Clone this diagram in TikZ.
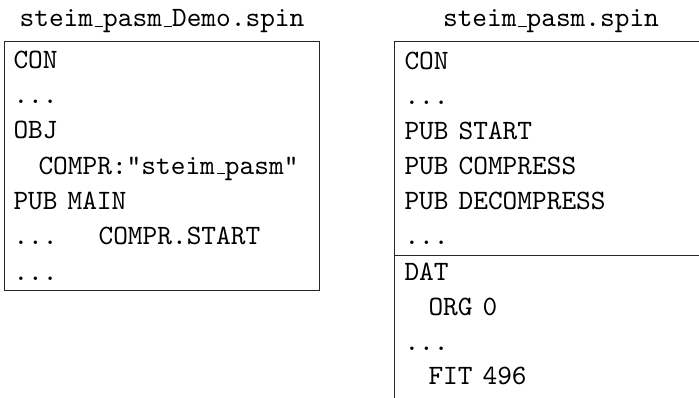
\documentclass[tikz,border=0pt]{standalone}
\usepackage{fontspec}
\newfontfamily\codefont{lmmono10-regular.otf}
\newcommand{\usc}{\leavevmode\kern.06em\vbox{\hrule width .3em height 1.1pt}}
\newcommand{\wsp}{\hspace*{10pt}}
\begin{document}
\begin{tikzpicture}[x=1pt,y=1pt,
  codeline/.style={anchor=base west,inner sep=0pt,outer sep=0pt,font=\fontsize{28}{35}\codefont},
  titletext/.style={anchor=base,inner sep=0pt,outer sep=0pt,font=\fontsize{28}{35}\codefont},
  frame/.style={draw=black!85,line width=1pt}]
\useasboundingbox (0,0) rectangle (699,-398);
% left file
\node[titletext] (t1) at (162,-27) {steim\usc pasm\usc Demo.spin};
\draw[frame] (4.5,-42) rectangle (319,-290.5);
\node[codeline] (a1) at (13.5,-69) {CON};
\node[codeline] (a2) at (13.5,-104) {...};
\node[codeline] (a3) at (13.5,-139) {OBJ};
\node[codeline] (a4) at (13.5,-174.5) {\hspace*{25pt}COMPR:"steim\usc pasm"};
\node[codeline] (a5) at (13.5,-210) {PUB\wsp MAIN};
\node[codeline] (a6) at (13.5,-245) {...\hspace*{41pt}COMPR.START};
\node[codeline] (a7) at (13.5,-280.5) {...};
% right file
\node[titletext] (t2) at (551,-27) {steim\usc pasm.spin};
\draw[frame] (699,-42) -- (394,-42) -- (394,-398);
\draw[frame] (394,-256) -- (699,-256);
\node[codeline] (b1) at (404.5,-70) {CON};
\node[codeline] (b2) at (404.5,-105) {...};
\node[codeline] (b3) at (404.5,-140) {PUB\wsp START};
\node[codeline] (b4) at (404.5,-175) {PUB\wsp COMPRESS};
\node[codeline] (b5) at (404.5,-210) {PUB\wsp DECOMPRESS};
\node[codeline] (b6) at (404.5,-245) {...};
\node[codeline] (b7) at (404.5,-280) {DAT};
\node[codeline] (b8) at (404.5,-315) {\hspace*{24pt}ORG\wsp 0};
\node[codeline] (b9) at (404.5,-350) {...};
\node[codeline] (b10) at (404.5,-384) {\hspace*{24pt}FIT\wsp 496};
\end{tikzpicture}
\end{document}
